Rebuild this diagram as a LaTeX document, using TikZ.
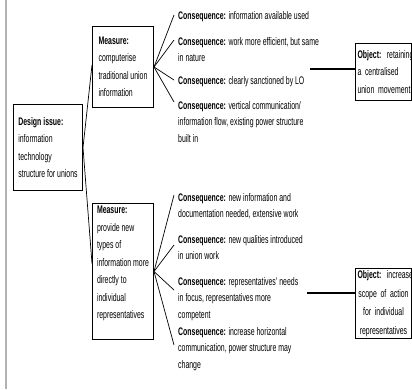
\documentclass[tikz,border=0pt]{standalone}
\usepackage{fontspec}
\setmainfont{Liberation Sans}[FakeStretch=0.63]
\usepackage{tikz}

\begin{document}
\begin{tikzpicture}[x=1pt,y=-1pt,
		box node/.style={draw,line width=1pt,align=left,anchor=north west,inner xsep=3pt,inner ysep=2pt,font=\fontsize{11}{17.5}\selectfont},
		cons node/.style={align=left,anchor=north west,inner sep=0pt,font=\fontsize{11}{16.5}\selectfont},
		fan/.style={line width=0.7pt},
		link/.style={line width=1.4pt}]
		\useasboundingbox (0,0) rectangle (412,389);
		\draw[gray!60,line width=1.5pt] (6,0) -- (6,389);
		
		\node[box node,minimum width=69pt,minimum height=86pt] (d) at (13,104)
		{\textbf{Design issue:}\\ information\\ technology\\ structure for unions};
		\node[box node,minimum width=61pt,minimum height=81pt] (m1) at (92,26)
		{\textbf{Measure:}\\ computerise\\ traditional union\\ information};
		\node[box node,minimum width=61pt,minimum height=136pt,text depth=18pt] (m2) at (92,203)
		{\textbf{Measure:}\\ provide new\\ types of\\ information more\\ directly to\\ individual\\ representatives};
		
		% consequences of the first measure
		\node[cons node] (c1) at (178,11) {\textbf{Consequence:} information available used};
		\node[cons node] (c2) at (178,37) {\textbf{Consequence:} work more efficient, but same\\ in nature};
		\node[cons node] (c3) at (178,76) {\textbf{Consequence:} clearly sanctioned by LO};
		\node[cons node] (c4) at (178,101) {\textbf{Consequence:} vertical communication/\\ information flow, existing power structure\\ built in};
		
		% consequences of the second measure
		\node[cons node] (c5) at (178,193) {\textbf{Consequence:} new information and\\ documentation needed, extensive work};
		\node[cons node] (c6) at (178,235) {\textbf{Consequence:} new qualities introduced\\ in union work};
		\node[cons node] (c7) at (178,277) {\textbf{Consequence:} representatives' needs\\ in focus, representatives more\\ competent};
		\node[cons node] (c8) at (178,327) {\textbf{Consequence:} increase horizontal\\ communication, power structure may\\ change};
		
		\node[box node,text width=52pt,inner xsep=2pt,minimum height=57pt] (o1) at (355,43)
		{\mbox{\textbf{Object:} retaining}\\ \mbox{a centralised}\\ \mbox{union movement}};
		\node[box node,align=center,text width=52pt,inner xsep=2pt,minimum height=70pt,font=\fontsize{11}{18.5}\selectfont] (o2) at (355,268)
		{\mbox{\textbf{Object:} increase}\\ \mbox{scope of action}\\ \mbox{for individual}\\ \mbox{representatives}};
		
		\coordinate (k1) at (310,69);
		\coordinate (k2) at (307,293);
		
		\path[fan]
		(d.east) edge ([yshift=2pt]m1.west)
		(d.east) edge ([yshift=8pt]m2.west)
		(m1.east) edge ([xshift=-4pt,yshift=-4pt]c1.north west)
		(m1.east) edge ([xshift=-4pt,yshift=-3pt]c2.north west)
		(m1.east) edge ([xshift=-4pt,yshift=-4pt]c3.north west)
		(m1.east) edge ([xshift=-4pt,yshift=-1pt]c4.north west)
		(m2.east) edge ([xshift=-4pt,yshift=-2pt]c5.north west)
		(m2.east) edge ([xshift=-4pt,yshift=-10pt]c6.north west)
		(m2.east) edge ([xshift=-4pt,yshift=-13pt]c7.north west)
		(m2.east) edge ([xshift=-4pt,yshift=-18pt]c8.north west);
		
		\draw[link] (k1) -- (k1 -| o1.west);
		\draw[link] (k2) -- (k2 -| o2.west);
\end{tikzpicture}
\end{document}
